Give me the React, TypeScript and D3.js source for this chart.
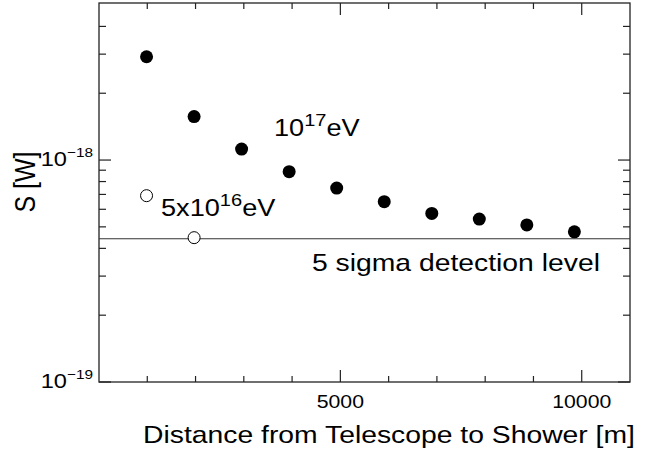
import React, { useEffect, useRef } from 'react';
import * as d3 from 'd3';

// distance from telescope to shower [m]
const distances = [985, 1970, 2954, 3939, 4924, 5909, 6894, 7878, 8863, 9848];
// S [W] for 10^17 eV showers
const signal17 = [
  2.92e-18, 1.57e-18, 1.12e-18, 8.86e-19, 7.48e-19, 6.49e-19, 5.75e-19, 5.42e-19, 5.1e-19, 4.75e-19,
];
// S [W] for 5x10^16 eV showers
const distances16 = [985, 1970];
const signal16 = [6.91e-19, 4.47e-19];

const detectionLevel = 4.42e-19;

const xMajorTicks = [5000, 10000];
const xMinorTicks = [1000, 2000, 3000, 4000, 6000, 7000, 8000, 9000];
const yMajorTicks = [1e-19, 1e-18];
const yMajorExp = ['19', '18'];
const yMinorTicks = [
  2e-19, 3e-19, 4e-19, 5e-19, 6e-19, 7e-19, 8e-19, 9e-19, 2e-18, 3e-18, 4e-18,
];

type Part = [string, boolean];

export default function App() {
  const ref = useRef<SVGSVGElement>(null);

  useEffect(() => {
    const width = 651;
    const height = 457;
    const margin = { top: 3, right: 21, bottom: 75, left: 99 };
    const sx = 1.18; // glyphs in the original are a bit wide

    const svg = d3.select(ref.current);
    svg.selectAll('*').remove();

    const x = d3
      .scaleLinear()
      .domain([0, 11000])
      .range([margin.left, width - margin.right]);

    const y = d3
      .scaleLog()
      .domain([1e-19, 5.1e-18])
      .range([height - margin.bottom, margin.top]);

    const [x0, x1] = x.range();
    const [y0, y1] = y.range();
    const axisColor = '#222';

    const label = (
      xp: number,
      yp: number,
      parts: Part[],
      size: number,
      supSize: number,
      raise: number,
      anchor: string,
      rotate = false
    ) => {
      const t = svg
        .append('g')
        .attr('transform', `translate(${xp},${yp}) scale(${sx},1)${rotate ? ' rotate(-90)' : ''}`)
        .append('text')
        .attr('text-anchor', anchor)
        .attr('font-family', '"Liberation Sans", Arial, sans-serif')
        .attr('font-size', size)
        .attr('fill', '#000');
      let up = false;
      parts.forEach(([s, sup]) => {
        const ts = t.append('tspan').text(s);
        if (sup) {
          ts.attr('font-size', supSize).attr('dy', -raise);
          up = true;
        } else if (up) {
          ts.attr('dy', raise);
          up = false;
        }
      });
    };

    // frame
    svg
      .append('rect')
      .attr('x', x0)
      .attr('y', y1)
      .attr('width', x1 - x0)
      .attr('height', y0 - y1)
      .attr('fill', 'none')
      .attr('stroke', axisColor)
      .attr('stroke-width', 1.3);

    // x ticks, bottom and top
    const xTicks = [
      ...xMinorTicks.map((v) => ({ v, len: 6 })),
      ...xMajorTicks.map((v) => ({ v, len: 12 })),
    ];
    const tickG = svg.append('g').attr('stroke', axisColor).attr('stroke-width', 1.2);
    xTicks.forEach(({ v, len }) => {
      tickG.append('line').attr('x1', x(v)).attr('x2', x(v)).attr('y1', y0).attr('y2', y0 - len);
      tickG.append('line').attr('x1', x(v)).attr('x2', x(v)).attr('y1', y1).attr('y2', y1 + len);
    });

    // y ticks, left and right
    const yTicks = [
      ...yMinorTicks.map((v) => ({ v, len: 7 })),
      ...yMajorTicks.map((v) => ({ v, len: 12 })),
    ];
    yTicks.forEach(({ v, len }) => {
      tickG.append('line').attr('x1', x0).attr('x2', x0 + len).attr('y1', y(v)).attr('y2', y(v));
      tickG.append('line').attr('x1', x1).attr('x2', x1 - len).attr('y1', y(v)).attr('y2', y(v));
    });

    // detection level
    svg
      .append('line')
      .attr('x1', x0)
      .attr('x2', x1)
      .attr('y1', y(detectionLevel))
      .attr('y2', y(detectionLevel))
      .attr('stroke', '#333')
      .attr('stroke-width', 1.2);

    // 10^17 eV points
    svg
      .append('g')
      .selectAll('circle')
      .data(distances)
      .enter()
      .append('circle')
      .attr('cx', (d) => x(d))
      .attr('cy', (d, i) => y(signal17[i]))
      .attr('r', 6.5)
      .attr('fill', '#000');

    // 5x10^16 eV points
    svg
      .append('g')
      .selectAll('circle')
      .data(distances16)
      .enter()
      .append('circle')
      .attr('cx', (d) => x(d))
      .attr('cy', (d, i) => y(signal16[i]))
      .attr('r', 6)
      .attr('fill', '#fff')
      .attr('stroke', '#000')
      .attr('stroke-width', 1);

    // tick labels
    xMajorTicks.forEach((v) => {
      label(x(v), 408, [[String(v), false]], 18, 12, 0, 'middle');
    });
    yMajorTicks.forEach((v, i) => {
      label(x0 - 6, y(v) + 5.5, [['10', false], ['\u2212' + yMajorExp[i], true]], 20, 13, 8.5, 'end');
    });

    // in-plot labels
    label(274, 136, [['10', false], ['17', true], ['eV', false]], 23, 17, 10, 'start');
    label(161, 216, [['5x10', false], ['16', true], ['eV', false]], 23, 17, 10, 'start');
    label(312, 271, [['5 sigma detection level', false]], 24, 16, 0, 'start');

    // axis titles
    label(389, 443, [['Distance from Telescope to Shower [m]', false]], 24, 16, 0, 'middle');
    label(35, 182, [['S [W]', false]], 25, 16, 0, 'middle', true);
  }, []);

  return (
    <svg
      ref={ref}
      width={651}
      height={457}
      style={{ position: 'absolute', left: 0, top: 0, display: 'block', background: '#fff' }}
    />
  );
}
